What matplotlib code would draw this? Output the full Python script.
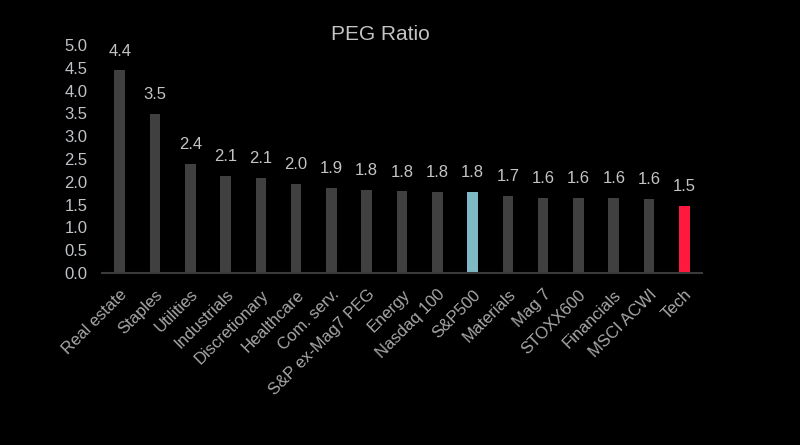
import matplotlib
matplotlib.use("Agg")
import matplotlib.pyplot as plt

plt.rcParams['font.family'] = ['Liberation Sans', 'DejaVu Sans']

# PEG ratio per sector / index
categories = ["Real estate", "Staples", "Utilities", "Industrials", "Discretionary",
              "Healthcare", "Com. serv.", "S&P ex-Mag7 PEG", "Energy", "Nasdaq 100",
              "S&P500", "Materials", "Mag 7", "STOXX600", "Financials", "MSCI ACWI", "Tech"]
peg = [4.44, 3.49, 2.40, 2.13, 2.08, 1.96, 1.87, 1.83, 1.79, 1.78,
       1.77, 1.69, 1.64, 1.64, 1.64, 1.63, 1.47]

highlight = {"S&P500": "#7fb9c4", "Tech": "#ff1a3d"}
colors = [highlight.get(c, "#404040") for c in categories]

fig = plt.figure(figsize=(8, 4.45), dpi=100, facecolor="black")
ax = fig.add_axes([0.1275, 0.3865, 0.75, 0.5125], facecolor="black")

x = range(len(categories))
bars = ax.bar(x, peg, width=0.3, color=colors)

for b, v in zip(bars, peg):
    ax.annotate(f"{v:.1f}", xy=(b.get_x() + b.get_width() / 2, v),
                xytext=(0, 8.5), textcoords="offset points",
                ha="center", va="bottom", color="#c4c4c4", fontsize=12)

ax.set_xlim(-0.5, len(categories) - 0.5)
ax.set_ylim(0, 5)
ax.set_yticks([i * 0.5 for i in range(11)])
ax.set_yticklabels([f"{i * 0.5:.1f}" for i in range(11)])
ax.set_xticks(list(x))
ax.set_xticklabels(categories, rotation=45, ha="right", rotation_mode="anchor")

ax.tick_params(axis="y", length=0, pad=10.5, labelsize=12, labelcolor="#c0c4c8")
ax.tick_params(axis="x", length=0, pad=10, labelsize=12, labelcolor="#a8a8a8")

for side in ["top", "right", "left"]:
    ax.spines[side].set_visible(False)
ax.spines["bottom"].set_color("#3a3a3a")
ax.spines["bottom"].set_linewidth(1.5)

fig.text(0.476, 0.923, "PEG Ratio", ha="center", va="center",
         color="#c4c4c4", fontsize=15)

plt.savefig("out.png", dpi=100, facecolor="black")
plt.close()
